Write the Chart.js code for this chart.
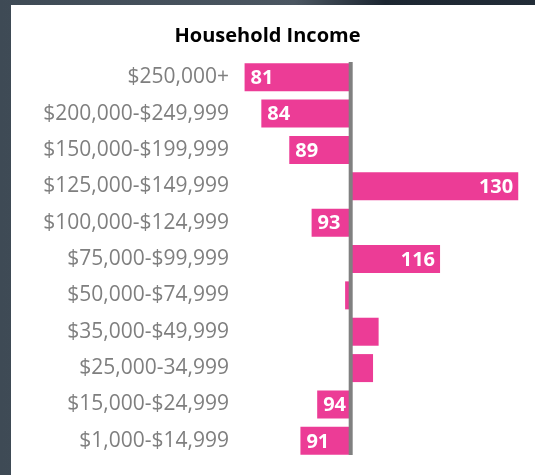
<!DOCTYPE html>
<html lang="en">
<head>
    <meta charset="UTF-8">
    <script src="https://cdn.jsdelivr.net/npm/chart.js"></script>
    <title>Household Income</title>
</head>
<style>
    html, body {
        margin: 0;
        padding: 0;
        width: 535px;
        height: 475px;
        overflow: hidden;
        background: linear-gradient(to right, #3e4a55 0%, #4b5661 55%, #1c2631 72%, #222c37 100%);
    }
    .panel {
        position: absolute;
        left: 11px;
        top: 5px;
        width: 524px;
        height: 470px;
        background: #ffffff;
    }
    .container {
        position: absolute;
        left: 0;
        top: 0;
        width: 535px;
        height: 475px;
    }
</style>
<body>
    <div class="panel"></div>
    <div class="container">
      <canvas id="incomeChart"></canvas>
    </div>
</body>
<script>
  const incomeBands = [
    '$250,000+',
    '$200,000-$249,999',
    '$150,000-$199,999',
    '$125,000-$149,999',
    '$100,000-$124,999',
    '$75,000-$99,999',
    '$50,000-$74,999',
    '$35,000-$49,999',
    '$25,000-34,999',
    '$15,000-$24,999',
    '$1,000-$14,999'
  ];
  const indexValues = [81, 84, 89, 130, 93, 116, 99, 105, 104, 94, 91];
  const baseIndex = 100;

  const barColor = '#ec3c96';
  const labelFont = 'bold 20px "Open Sans"';

  // white value labels inside the bar end, skipped when the bar is too short
  const valueLabels = {
    id: 'valueLabels',
    afterDatasetsDraw(chart) {
      const ctx = chart.ctx;
      const meta = chart.getDatasetMeta(0);
      ctx.save();
      ctx.font = labelFont;
      ctx.fillStyle = '#ffffff';
      ctx.textBaseline = 'middle';
      meta.data.forEach((bar, i) => {
        const v = indexValues[i];
        const text = String(v);
        const w = ctx.measureText(text).width;
        const len = Math.abs(bar.x - bar.base);
        if (w + 4 > len) return;
        if (v < baseIndex) {
          ctx.textAlign = 'left';
          ctx.fillText(text, bar.x + 6, bar.y + 1);
        } else {
          ctx.textAlign = 'right';
          ctx.fillText(text, bar.x - 5, bar.y + 1);
        }
      });
      ctx.restore();
    }
  };

  // grey axis line at the base index
  const baseLine = {
    id: 'baseLine',
    afterDatasetsDraw(chart) {
      const ctx = chart.ctx;
      const x = chart.scales.x.getPixelForValue(baseIndex);
      ctx.save();
      ctx.strokeStyle = '#808080';
      ctx.lineWidth = 4;
      ctx.beginPath();
      ctx.moveTo(x, chart.chartArea.top + 3);
      ctx.lineTo(x, chart.chartArea.bottom - 4);
      ctx.stroke();
      ctx.restore();
    }
  };

  const data = {
    labels: incomeBands,
    datasets: [{
      label: 'Index',
      data: indexValues,
      base: baseIndex,
      backgroundColor: barColor,
      borderWidth: 0,
      categoryPercentage: 1,
      barPercentage: 0.77
    }]
  };

  const config = {
    type: 'bar',
    data: data,
    options: {
      indexAxis: 'y',
      responsive: true,
      maintainAspectRatio: false,
      animation: false,
      layout: {
        padding: { top: 0, bottom: 16, left: 0, right: 0 }
      },
      plugins: {
        legend: { display: false },
        tooltip: { enabled: false },
        title: {
          display: true,
          text: 'Household Income',
          color: '#000000',
          font: { family: '"Open Sans"', size: 20, weight: 'bold' },
          padding: { top: 24, bottom: 11 }
        }
      },
      scales: {
        x: {
          display: false,
          min: 80,
          max: 133
        },
        y: {
          grid: { display: false, drawTicks: false },
          border: { display: false },
          ticks: {
            color: '#7f7f7f',
            padding: 10,
            font: { family: '"Open Sans"', size: 21 }
          },
          afterFit(scale) {
            scale.width = 239;
            scale.paddingTop = 0;
            scale.paddingBottom = 0;
          }
        }
      }
    },
    plugins: [valueLabels, baseLine]
  };

  const incomeChart = new Chart(
    document.getElementById('incomeChart'),
    config
  );
</script>
</html>
